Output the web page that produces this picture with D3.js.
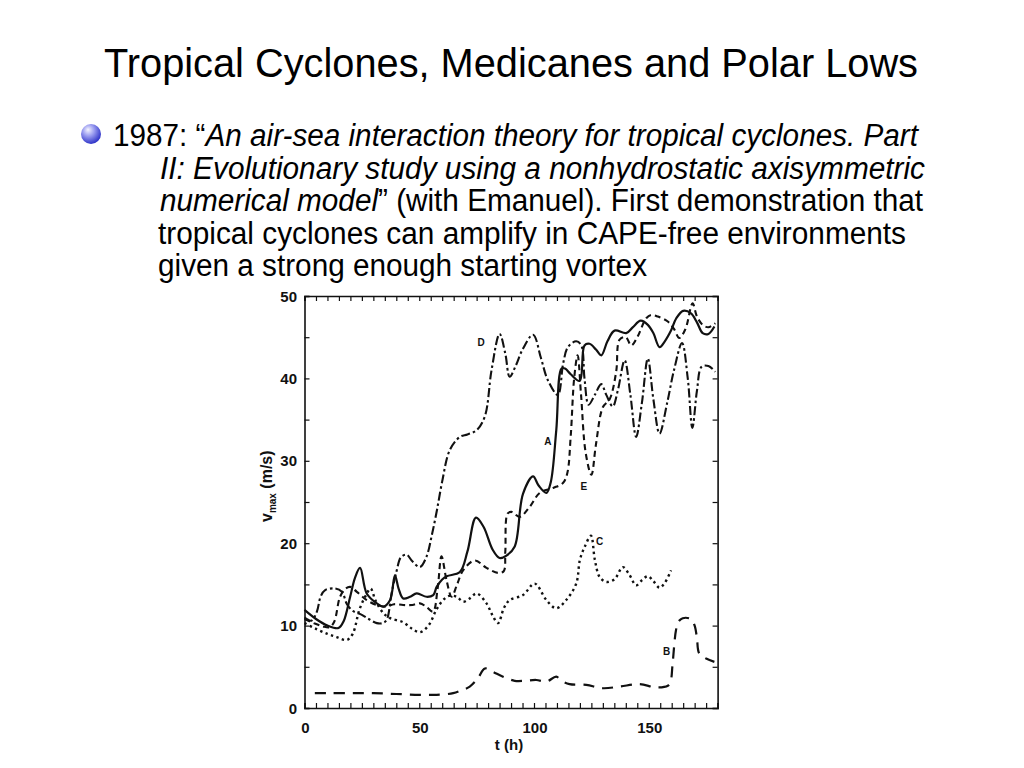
<!DOCTYPE html>
<html><head><meta charset="utf-8">
<script src="https://cdn.jsdelivr.net/npm/d3@7"></script>
<style>body{margin:0;background:#fff;} svg{display:block;}</style>
</head><body><svg id="c" width="1024" height="768"></svg>
<script>
// ---- data ----
const tA = [0, 5, 10, 14.8, 17, 19.9, 22, 24.2, 27.1, 31.5, 34.4, 37.3, 39.4, 41, 43, 46, 48.9, 53.2, 56.1, 57.6, 60, 62, 67.7, 71, 74.7, 78, 82, 85, 88, 91.6, 95.2, 99.6, 102, 105.4, 107.3, 109.7, 112, 113.5, 116, 119.9, 122, 124.2, 127, 129.3, 132, 135.1, 140.2, 143, 146.5, 149.6, 152, 154.7, 157, 159.7, 162, 165, 168.4, 171, 173.5, 176, 178.6];
const vA = [11.9, 10.8, 10.0, 9.7, 10.5, 13.5, 15.8, 17.0, 13.9, 12.7, 12.3, 13.1, 16.1, 14.5, 13.3, 13.5, 13.9, 13.5, 13.7, 14.7, 15.6, 16.0, 16.5, 19.0, 23.1, 22.0, 19.2, 18.2, 18.5, 19.6, 26.0, 28.1, 27.0, 26.1, 27.4, 33.7, 41.2, 41.2, 40.5, 39.7, 44.0, 44.2, 43.5, 42.8, 44.5, 45.8, 45.5, 46.2, 47.0, 46.5, 45.5, 43.8, 44.5, 45.8, 47.3, 48.2, 47.9, 46.8, 45.5, 45.4, 46.3];

const tB = [4.5, 10, 20, 30, 40, 50, 57.6, 64.8, 68, 72, 75.5, 78.6, 82, 86.5, 91.6, 96, 101, 105.4, 109.7, 112, 115.5, 122.8, 130, 137.3, 146, 153.2, 158.3, 159.5, 160.4, 161.9, 163, 164.8, 168.4, 170, 171, 172, 175, 178.6];
const vB = [1.8, 1.8, 1.8, 1.8, 1.7, 1.6, 1.6, 1.8, 2.1, 2.6, 3.6, 4.8, 4.4, 3.8, 3.3, 3.3, 3.4, 3.2, 3.8, 3.3, 2.9, 2.8, 2.4, 2.6, 2.9, 2.5, 2.7, 3.2, 5.4, 9.5, 10.5, 10.9, 10.8, 10.0, 8.5, 6.6, 6.0, 5.6];

const tC = [0, 5, 10, 14, 18.4, 21, 24, 27, 28.8, 31, 34.4, 37.3, 43, 47, 50.3, 54, 57.6, 60.4, 63, 66.3, 69.1, 72, 75, 79.3, 82, 84.3, 87, 89.4, 95.2, 100.3, 105.4, 109.7, 114, 118.4, 120, 122, 124.8, 126.5, 128.6, 131.5, 135, 138.7, 141.5, 144.5, 147, 149.6, 152, 154.7, 157, 159.7];
const vC = [10.3, 9.6, 9.0, 8.6, 8.25, 9.0, 12.0, 13.8, 14.5, 13.0, 11.5, 10.9, 10.4, 9.6, 9.2, 10.0, 12.0, 13.1, 13.6, 13.5, 12.9, 13.3, 13.9, 12.7, 11.2, 10.3, 12.2, 13.1, 13.7, 15.1, 13.1, 12.1, 13.1, 15.1, 18.0, 19.5, 20.9, 18.0, 15.9, 15.3, 15.6, 17.1, 16.2, 14.9, 15.5, 16.0, 15.4, 14.6, 15.2, 16.7];

const tD = [0, 3, 5.4, 7, 9, 13.3, 16.3, 18.5, 21, 25, 28, 31.5, 34, 35.8, 38, 40.2, 42, 44.5, 47, 50.3, 53.2, 55.5, 57.7, 60, 63.3, 67.7, 71, 75, 78.6, 81.5, 85, 87.5, 89.4, 92, 95, 99.6, 103, 106, 110.4, 112.7, 114.8, 118.4, 120.6, 122, 123.8, 126.5, 129.3, 131.5, 134.3, 136.5, 139.5, 142, 144.5, 147, 149.6, 152, 154.7, 158, 161, 164.5, 167, 169, 171, 173, 176, 179];
const vD = [11.0, 10.6, 11.7, 13.5, 14.3, 14.5, 14.1, 12.6, 11.8, 11.3, 10.8, 10.3, 10.3, 10.7, 14.0, 16.7, 18.3, 18.6, 17.8, 17.1, 18.4, 21.0, 24.0, 27.5, 31.3, 32.9, 33.2, 33.7, 35.4, 41.0, 45.4, 43.0, 40.2, 41.5, 43.5, 45.3, 42.5, 39.8, 38.0, 41.8, 43.8, 44.5, 44.0, 40.0, 36.8, 38.0, 39.3, 38.0, 36.6, 38.5, 42.2, 38.0, 32.9, 37.0, 42.4, 37.5, 33.3, 37.0, 41.0, 44.3, 40.0, 34.0, 38.5, 41.4, 41.5, 40.8];

const tE = [0, 4, 8, 11, 13, 15.5, 18, 19.9, 22.8, 27.1, 31.5, 35.8, 39, 43, 47, 50.3, 53, 56, 58, 59.7, 61.9, 64.1, 66.5, 69.1, 74.2, 79.3, 84.3, 86.8, 87.5, 88.5, 90.2, 93.8, 98.1, 102.5, 108.3, 112.6, 114.5, 116, 117.5, 119, 120.5, 122.5, 125, 127, 130, 133, 135.8, 137.3, 140, 142.4, 145, 148.9, 151, 154, 158.3, 161, 163.3, 166, 169.1, 171, 173.5, 176, 179];
const vE = [10.8, 10.3, 9.9, 9.8, 10.5, 13.5, 14.5, 14.7, 14.1, 13.1, 12.5, 12.3, 12.6, 12.5, 12.5, 12.7, 12.3, 11.7, 14.5, 18.4, 15.5, 13.5, 15.0, 16.7, 17.9, 17.0, 16.4, 16.6, 19.0, 23.6, 23.8, 23.2, 24.4, 26.1, 26.7, 27.3, 28.5, 33.0, 40.0, 42.8, 38.0, 31.0, 28.3, 32.0, 36.5, 37.5, 40.8, 44.7, 45.0, 44.0, 45.0, 47.3, 47.7, 47.5, 46.9, 46.0, 44.9, 46.0, 49.1, 47.5, 46.5, 46.2, 46.7];

const curveLabels = ["D", "A", "E", "C", "B"];
const labelT = [77, 106, 121.7, 128.6, 157.8];
const labelV = [44.4, 32.4, 27.0, 20.3, 6.9];

const xTickLabels = [0, 50, 100, 150];
const yTickLabels = [0, 10, 20, 30, 40, 50];

const titleText = "Tropical Cyclones, Medicanes and Polar Lows";

// ---- drawing ----
const svg = d3.select("#c");
const FONT = "'Liberation Sans', Arial, Helvetica, sans-serif";

svg.append("rect").attr("width", 1024).attr("height", 768).attr("fill", "#fff");

// title
svg.append("text").attr("x", 104).attr("y", 77)
  .attr("font-family", FONT).attr("font-size", 40).attr("fill", "#000")
  .attr("textLength", 814).attr("lengthAdjust", "spacingAndGlyphs")
  .text(titleText);

// bullet sphere
const defs = svg.append("defs");
const rg = defs.append("radialGradient").attr("id", "ball").attr("cx", "40%").attr("cy", "35%").attr("r", "65%").attr("fx", "35%").attr("fy", "28%");
rg.append("stop").attr("offset", "0%").attr("stop-color", "#f4f4ff");
rg.append("stop").attr("offset", "45%").attr("stop-color", "#9a9cf0");
rg.append("stop").attr("offset", "100%").attr("stop-color", "#2f34c8");
svg.append("circle").attr("cx", 91).attr("cy", 134).attr("r", 10).attr("fill", "url(#ball)");

// bullet text
const lines = [
  {x: 113, y: 146, len: 805, parts: [["1987: \u201C", false], ["An air-sea interaction theory for tropical cyclones. Part", true]]},
  {x: 160, y: 179, len: 765, parts: [["II: Evolutionary study using a nonhydrostatic axisymmetric", true]]},
  {x: 160, y: 211, len: 763, parts: [["numerical model", true], ["\u201D (with Emanuel). First demonstration that", false]]},
  {x: 158, y: 244, len: 748, parts: [["tropical cyclones can amplify in CAPE-free environments", false]]},
  {x: 158, y: 276, len: 489, parts: [["given a strong enough starting vortex", false]]}
];
lines.forEach(l => {
  const t = svg.append("text").attr("x", l.x).attr("y", l.y)
    .attr("font-family", FONT).attr("font-size", 31).attr("fill", "#000")
    .attr("textLength", l.len).attr("lengthAdjust", "spacingAndGlyphs");
  l.parts.forEach(p => t.append("tspan").attr("font-style", p[1] ? "italic" : "normal").text(p[0]));
});

// plot
const x = d3.scaleLinear().domain([0, 180]).range([304.5, 717.6]);
const y = d3.scaleLinear().domain([0, 50]).range([708, 296]);
const g = svg.append("g");
const tickVals5x = d3.range(0, 181, 5);
const tickVals5y = d3.range(0, 51, 5);

// axes via d3 (inward ticks)
const axBottom = g.append("g").attr("transform", `translate(0,${y(0)})`)
  .call(d3.axisBottom(x).tickValues(tickVals5x).tickSize(-5).tickFormat(""));
const axTop = g.append("g").attr("transform", `translate(0,${y(50)})`)
  .call(d3.axisTop(x).tickValues(tickVals5x).tickSize(-5).tickFormat(""));
const axLeft = g.append("g").attr("transform", `translate(${x(0)},0)`)
  .call(d3.axisLeft(y).tickValues(tickVals5y).tickSize(-5).tickFormat(""));
const axRight = g.append("g").attr("transform", `translate(${x(180)},0)`)
  .call(d3.axisRight(y).tickValues(tickVals5y).tickSize(-5).tickFormat(""));
[axBottom, axTop, axLeft, axRight].forEach(a => {
  a.select(".domain").attr("stroke", "#111").attr("stroke-width", 1.6);
  a.selectAll(".tick line").attr("stroke", "#111").attr("stroke-width", 1.2);
});

// tick labels
g.selectAll(".xl").data(xTickLabels).join("text")
  .attr("x", d => x(d) + 1).attr("y", 733).attr("text-anchor", "middle")
  .attr("font-family", FONT).attr("font-weight", "bold").attr("font-size", 15).attr("fill", "#111")
  .text(d => d);
g.selectAll(".yl").data(yTickLabels).join("text")
  .attr("x", 297).attr("y", d => y(d) + 5.5).attr("text-anchor", "end")
  .attr("font-family", FONT).attr("font-weight", "bold").attr("font-size", 15).attr("fill", "#111")
  .text(d => d);

// axis titles
g.append("text").attr("x", 509).attr("y", 750).attr("text-anchor", "middle")
  .attr("font-family", FONT).attr("font-weight", "bold").attr("font-size", 15).attr("fill", "#111")
  .text("t (h)");
const yt = g.append("text").attr("transform", "translate(272,522) rotate(-90)")
  .attr("font-family", FONT).attr("font-weight", "bold").attr("font-size", 16).attr("fill", "#111");
yt.append("tspan").text("v");
yt.append("tspan").attr("font-size", 10).attr("dy", 4).text("max");
yt.append("tspan").attr("dy", -4).text(" (m/s)");

// curves
const line = d3.line().x(d => x(d[0])).y(d => y(d[1])).curve(d3.curveCatmullRom.alpha(0.5));
const series = [
  {t: tB, v: vB, dash: "11,8", w: 2.2},
  {t: tC, v: vC, dash: "2.4,3.4", w: 2.4},
  {t: tE, v: vE, dash: "6,4", w: 2.1},
  {t: tD, v: vD, dash: "9,3,2.5,3", w: 2.1},
  {t: tA, v: vA, dash: null, w: 2.2}
];
series.forEach(s => {
  const pts = s.t.map((t, i) => [t, s.v[i]]);
  g.append("path").datum(pts).attr("d", line)
    .attr("fill", "none").attr("stroke", "#111").attr("stroke-width", s.w)
    .attr("stroke-dasharray", s.dash).attr("stroke-linejoin", "round");
});

// curve labels
g.selectAll(".cl").data(curveLabels).join("text")
  .attr("x", (d, i) => x(labelT[i])).attr("y", (d, i) => y(labelV[i]) + 4)
  .attr("text-anchor", "middle")
  .attr("font-family", FONT).attr("font-weight", "bold").attr("font-size", 10).attr("fill", "#111")
  .text(d => d);
</script>
</body></html>
